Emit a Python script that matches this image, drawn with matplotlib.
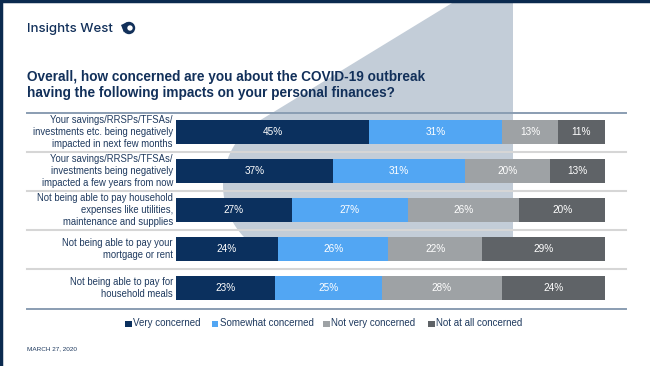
import numpy as np
import matplotlib
matplotlib.use("Agg")
import matplotlib.pyplot as plt
from matplotlib.patches import Polygon, Rectangle, Ellipse
from matplotlib.lines import Line2D
import matplotlib.transforms as mtransforms

# ---- data ----
categories = [
    "Your savings/RRSPs/TFSAs/\ninvestments etc. being negatively\nimpacted in next few months",
    "Your savings/RRSPs/TFSAs/\ninvestments being negatively\nimpacted a few years from now",
    "Not being able to pay household\nexpenses like utilities,\nmaintenance and supplies",
    "Not being able to pay your\nmortgage or rent",
    "Not being able to pay for\nhousehold meals",
]
series_names = ["Very concerned", "Somewhat concerned", "Not very concerned", "Not at all concerned"]
very_concerned = [45, 37, 27, 24, 23]
somewhat_concerned = [31, 31, 27, 26, 25]
not_very_concerned = [13, 20, 26, 22, 28]
not_at_all_concerned = [11, 13, 20, 29, 24]
colors = ["#0b305e", "#52a6f3", "#9ea2a5", "#5f6367"]

title = "Overall, how concerned are you about the COVID-19 outbreak\nhaving the following impacts on your personal finances?"
date_text = "MARCH 27, 2020"

W, H = 650, 366
NAVY = "#12305a"
fig = plt.figure(figsize=(6.5, 3.66), dpi=100)
fig.patch.set_facecolor("white")

def fx(x):
    return x / W

def fy(y):
    return 1 - y / H

# ---- background decorative shape ----
cx, cy, r = 298, 185, 75
P = (457, 0)
dx, dy = P[0] - cx, P[1] - cy
d = np.hypot(dx, dy)
base = np.arctan2(dy, dx)
tang = base - np.arccos(r / d)
yb = 237
th0 = np.pi - np.arcsin((yb - cy) / r)
th1 = tang + 2 * np.pi
ths = np.linspace(th0, th1, 60)
pts = [P, (513, 0), (513, yb)]
pts += [(cx + r * np.cos(t), cy + r * np.sin(t)) for t in ths]
pts_fig = [(fx(x), fy(y)) for x, y in pts]
fig.add_artist(Polygon(pts_fig, closed=True, facecolor="#c3cdd8", edgecolor="none",
                       transform=fig.transFigure, zorder=0))

# frame lines (top & left)
fig.add_artist(Line2D([0, 1], [fy(1), fy(1)], color="#0b2a4f", lw=2.5, transform=fig.transFigure))
fig.add_artist(Line2D([fx(1), fx(1)], [0, 1], color="#0b2a4f", lw=2.5, transform=fig.transFigure))

# logo
fig.text(fx(27), fy(29), "Insights West", fontsize=9.5, color=NAVY, family="Inter",
         weight="medium", va="center", ha="left")
fig.add_artist(Ellipse((fx(129), fy(28)), 12.4 / W, 12.4 / H, transform=fig.transFigure,
                       facecolor=NAVY, edgecolor="none"))
fig.add_artist(Polygon([(fx(121), fy(25)), (fx(127.5), fy(22.0)), (fx(124.0), fy(32.5))], closed=True,
                       facecolor=NAVY, edgecolor="none", transform=fig.transFigure))
fig.add_artist(Ellipse((fx(130), fy(28)), 5.4 / W, 5.4 / H, transform=fig.transFigure,
                       facecolor="white", edgecolor="none"))

# title
fig.text(fx(27), fy(85), title, fontsize=9.85, color=NAVY, family="Liberation Sans",
         weight="bold", va="center", ha="left", linespacing=1.2)

# rules
fig.add_artist(Line2D([fx(27), fx(626)], [fy(113), fy(113)], color="#8a9db2", lw=1.4,
                      transform=fig.transFigure))
fig.add_artist(Line2D([fx(27), fx(626)], [fy(309), fy(309)], color="#8a9db2", lw=1.4,
                      transform=fig.transFigure))

# ---- bar axes ----
ax = fig.add_axes([fx(176), fy(309), fx(605) - fx(176), (309 - 113) / H])
ax.set_zorder(2)
ax.patch.set_visible(False)
n = len(categories)
ypos = np.arange(n)
data = np.array([very_concerned, somewhat_concerned, not_very_concerned, not_at_all_concerned], dtype=float)
totals = data.sum(axis=0)
widths = data / totals * 100
left = np.zeros(n)
for i in range(4):
    ax.barh(ypos, widths[i], left=left, height=0.59, color=colors[i], edgecolor="none")
    for j in range(n):
        ax.text(left[j] + widths[i][j] / 2, ypos[j], f"{int(data[i][j])}%", color="white",
                ha="center", va="center", fontsize=7.2, family="Liberation Sans")
    left += widths[i]
ax.set_xlim(0, 100)
ax.set_ylim(4 + 21 / 39, -19 / 39)
ax.axis("off")

# separators & category labels
trans = mtransforms.blended_transform_factory(fig.transFigure, ax.transData)
for k in range(n - 1):
    ax.add_line(Line2D([fx(27), fx(626)], [k + 0.5, k + 0.5], color="#d6d6d6", lw=1.5,
                       transform=trans, clip_on=False, zorder=0.5))
for j, c in enumerate(categories):
    ax.text(fx(173), ypos[j], c, transform=trans, ha="right", va="center", fontsize=6.85,
            color="#1f3a5f", family="Liberation Sans", linespacing=1.2)

# legend
leg_x = [125, 212, 323, 428]
for i, name in enumerate(series_names):
    fig.add_artist(Rectangle((fx(leg_x[i]), fy(327)), 6.5 / W, 6.5 / H, facecolor=colors[i],
                             edgecolor="none", transform=fig.transFigure))
    fig.text(fx(leg_x[i] + 8), fy(323.5), name, fontsize=7, color="#1f3a5f",
             family="Liberation Sans", va="center", ha="left")

fig.text(fx(27), fy(349), date_text, fontsize=4.6, color="#1f3a5f", family="Liberation Sans",
         va="center", ha="left")

fig.savefig("out.png", dpi=100)
